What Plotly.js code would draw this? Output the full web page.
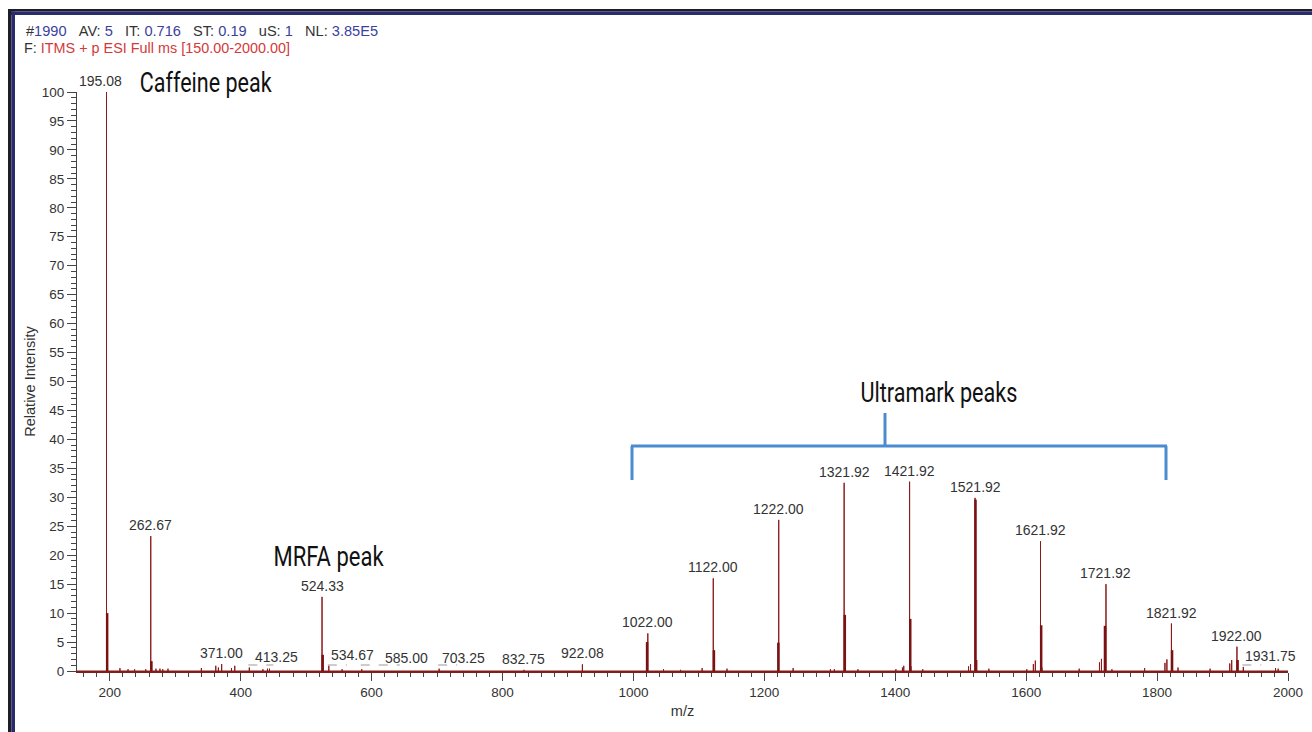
<!DOCTYPE html>
<html><head><meta charset="utf-8">
<script src="https://cdn.plot.ly/plotly-3.0.1.min.js"></script>
<style>html,body{margin:0;padding:0;background:#fff;}#chart{width:1312px;height:732px;}</style>
</head><body><div id="chart"></div>
<script>
// ---- labelled peaks ----
const peakMz = [195.08, 262.67, 371.00, 413.25, 524.33, 534.67, 585.00, 703.25, 832.75, 922.08,
  1022.00, 1122.00, 1222.00, 1321.92, 1421.92, 1521.92, 1621.92, 1721.92, 1821.92, 1922.00, 1931.75];
const peakIntensity = [100, 23.3, 1.2, 0.6, 12.8, 0.9, 0.3, 0.4, 0.2, 1.15,
  6.5, 16.0, 26.1, 32.5, 32.7, 29.9, 22.4, 15.0, 8.2, 4.2, 0.7];
const peakLabels = ["195.08", "262.67", "371.00", "413.25", "524.33", "534.67", "585.00", "703.25", "832.75", "922.08",
  "1022.00", "1122.00", "1222.00", "1321.92", "1421.92", "1521.92", "1621.92", "1721.92", "1821.92", "1922.00", "1931.75"];
// ---- isotope / shoulder sticks (drawn thicker) ----
const isoMz = [196.08, 263.67, 525.33, 1020.9, 1123.0, 1221.4, 1322.92, 1422.92, 1522.6, 1622.92, 1720.4, 1822.9, 1923.0];
const isoIntensity = [10.0, 1.7, 2.8, 5.0, 3.6, 4.9, 9.7, 9.0, 29.6, 7.9, 7.8, 3.6, 1.9];
// ---- small noise peaks ----
const noiseMz = [215.6, 228, 238, 255, 270.6, 276.7, 281, 289, 340, 362, 366, 386, 391, 434, 441, 444, 555,
  1046, 1072, 1105, 1143, 1244, 1301, 1307, 1323.9, 1343, 1401, 1411, 1413, 1423.9, 1442, 1512, 1515, 1524.5, 1543,
  1601, 1611, 1614, 1624, 1681, 1712, 1715, 1731, 1781, 1812, 1815, 1832, 1881, 1911, 1914, 1981, 1985];
const noiseIntensity = [0.5, 0.3, 0.3, 0.3, 0.4, 0.4, 0.3, 0.4, 0.5, 0.9, 0.6, 0.5, 0.9, 0.3, 0.4, 0.4, 0.3,
  0.3, 0.2, 0.5, 0.4, 0.5, 0.3, 0.3, 1.0, 0.3, 0.3, 0.6, 0.9, 0.8, 0.3, 0.8, 1.2, 1.9, 0.4,
  0.3, 1.2, 1.8, 0.6, 0.4, 1.5, 2.1, 0.3, 0.5, 1.4, 2.0, 0.6, 0.4, 1.3, 1.9, 0.5, 0.4];
const xRange = [150, 2000];
const yRange = [0, 100];

// ---- geometry helpers (pixel -> paper) ----
const W = 1312, H = 732, ML = 77, MR = 24, MT = 92, MB = 61;
const pw = W - ML - MR, ph = H - MT - MB;
const px = p => (p - ML) / pw;
const py = p => (H - MB - p) / ph;

// thin profile line with baseline
const thin = [];
peakMz.forEach((m, i) => thin.push([m, peakIntensity[i]]));
noiseMz.forEach((m, i) => thin.push([m, noiseIntensity[i]]));
thin.sort((a, b) => a[0] - b[0]);
const tx = [xRange[0]], ty = [0];
thin.forEach(([m, h]) => { tx.push(m, m, m); ty.push(0, h, 0); });
tx.push(xRange[1]); ty.push(0);

const ix = [], iy = [];
isoMz.forEach((m, i) => { ix.push(m, m, null); iy.push(0, isoIntensity[i], null); });

const traces = [
  {type: 'scatter', mode: 'lines', x: tx, y: ty, line: {color: '#8b1a1a', width: 1}, hoverinfo: 'x+y', showlegend: false},
  {type: 'scatter', mode: 'lines', x: ix, y: iy, line: {color: '#7a1212', width: 2.5}, hoverinfo: 'x+y', showlegend: false}
];

const labelFont = {family: 'Liberation Sans, Arial, sans-serif', size: 14, color: '#333'};
const xShift = {"195.08": -6, "413.25": 27, "534.67": 24, "585.00": 45, "703.25": 24, "1931.75": 27};
const leader = {"413.25": 24, "534.67": 18, "585.00": 38, "703.25": 18, "1931.75": 18};

const annotations = peakMz.map((m, i) => ({
  x: m, y: peakIntensity[i], xref: 'x', yref: 'y', text: peakLabels[i], showarrow: false,
  yanchor: 'bottom', xanchor: 'center', yshift: 1, xshift: xShift[peakLabels[i]] || 0, font: labelFont
}));

const bigFont = {family: 'Roboto, Liberation Sans, sans-serif', size: 27, color: '#111'};
annotations.push(
  {xref: 'paper', yref: 'paper', x: px(206), y: py(83), text: 'Caffeine peak', showarrow: false, xanchor: 'center', yanchor: 'middle', font: bigFont},
  {xref: 'paper', yref: 'paper', x: px(328), y: py(557), text: 'MRFA peak', showarrow: false, xanchor: 'center', yanchor: 'middle', font: bigFont},
  {xref: 'paper', yref: 'paper', x: px(939), y: py(393), text: 'Ultramark peaks', showarrow: false, xanchor: 'center', yanchor: 'middle', font: bigFont}
);
const hdr = {family: 'Liberation Sans, Arial, sans-serif', size: 14, color: '#333'};
const blue = s => '<span style="color:#3b3f9e">' + s + '</span>';
const sp = '&nbsp;&nbsp;&nbsp;';
annotations.push(
  {xref: 'paper', yref: 'paper', x: px(24), y: py(31), xanchor: 'left', yanchor: 'middle', showarrow: false, font: hdr, align: 'left',
   text: '#' + blue('1990') + sp + 'AV:&nbsp;' + blue('5') + sp + 'IT:&nbsp;' + blue('0.716') + sp + 'ST:&nbsp;' + blue('0.19') + sp + 'uS:&nbsp;' + blue('1') + sp + 'NL:&nbsp;' + blue('3.85E5')},
  {xref: 'paper', yref: 'paper', x: px(22), y: py(48), xanchor: 'left', yanchor: 'middle', showarrow: false, font: hdr, align: 'left',
   text: 'F:&nbsp;<span style="color:#d23a3a">ITMS + p ESI Full ms [150.00-2000.00]</span>'}
);
// target text widths (px) for fitting the reference's condensed lettering
const fitWidth = {"Caffeine peak": 132, "MRFA peak": 110, "Ultramark peaks": 157};
const fitPrefix = [["#1990", 352], ["F:", 266]];

const shapes = [];
Object.keys(leader).forEach(lbl => {
  const i = peakLabels.indexOf(lbl);
  shapes.push({type: 'line', xref: 'x', yref: 'y', xsizemode: 'pixel', xanchor: peakMz[i], x0: -1, x1: leader[lbl],
    ysizemode: 'pixel', yanchor: 0, y0: 6, y1: 6, line: {color: '#999', width: 1, dash: 'dash'}});
});
// Ultramark bracket
const bc = '#4a8ccf';
shapes.push(
  {type: 'line', xref: 'paper', yref: 'paper', x0: px(631), x1: px(1167), y0: py(446), y1: py(446), line: {color: bc, width: 3}},
  {type: 'line', xref: 'paper', yref: 'paper', x0: px(632), x1: px(632), y0: py(446), y1: py(480), line: {color: bc, width: 3}},
  {type: 'line', xref: 'paper', yref: 'paper', x0: px(1166), x1: px(1166), y0: py(446), y1: py(480), line: {color: bc, width: 3}},
  {type: 'line', xref: 'paper', yref: 'paper', x0: px(885), x1: px(885), y0: py(413), y1: py(446), line: {color: bc, width: 3}}
);
// window frame (top and left)
shapes.push(
  {type: 'rect', xref: 'paper', yref: 'paper', x0: px(8), x1: px(1330), y0: py(9), y1: py(11.5), fillcolor: '#1e1e28', line: {width: 0}},
  {type: 'rect', xref: 'paper', yref: 'paper', x0: px(8), x1: px(1330), y0: py(11.5), y1: py(15), fillcolor: '#2a2b6e', line: {width: 0}},
  {type: 'rect', xref: 'paper', yref: 'paper', x0: px(8), x1: px(11.5), y0: py(9), y1: py(760), fillcolor: '#1e1e28', line: {width: 0}},
  {type: 'rect', xref: 'paper', yref: 'paper', x0: px(11.5), x1: px(15), y0: py(11.5), y1: py(760), fillcolor: '#2a2b6e', line: {width: 0}}
);

const tickFont = {family: 'Liberation Sans, Arial, sans-serif', size: 13.5, color: '#333'};
const titleFont = {family: 'Liberation Sans, Arial, sans-serif', size: 14.5, color: '#333'};
const layout = {
  width: W, height: H, margin: {l: ML, r: MR, t: MT, b: MB, pad: 0},
  paper_bgcolor: '#fff', plot_bgcolor: '#fff', showlegend: false,
  xaxis: {range: xRange, tickmode: 'linear', tick0: 0, dtick: 200, ticks: 'outside', ticklen: 8, tickcolor: '#444', tickwidth: 1,
    minor: {tickmode: 'linear', tick0: 0, dtick: 20, ticks: 'outside', ticklen: 4, tickcolor: '#444', showgrid: false},
    showgrid: false, zeroline: false, showline: true, linecolor: '#7f1d1d', linewidth: 2, tickfont: tickFont,
    title: {text: 'm/z', font: titleFont, standoff: 7}},
  yaxis: {range: yRange, tickmode: 'linear', tick0: 0, dtick: 5, ticks: 'outside', ticklen: 9, tickcolor: '#444', tickwidth: 1,
    minor: {tickmode: 'linear', tick0: 0, dtick: 1, ticks: 'outside', ticklen: 5, tickcolor: '#444', showgrid: false},
    showgrid: false, zeroline: false, showline: true, linecolor: '#444', linewidth: 1, tickfont: tickFont,
    title: {text: 'Relative Intensity', font: titleFont, standoff: 2}},
  annotations: annotations, shapes: shapes
};
Plotly.newPlot('chart', traces, layout, {displayModeBar: false, staticPlot: true}).then(gd => {
  gd.querySelectorAll('text.annotation-text').forEach(t => {
    const s = t.textContent;
    let w = fitWidth[s];
    fitPrefix.forEach(([p, v]) => { if (s.startsWith(p)) w = v; });
    if (w) { t.setAttribute('textLength', w); t.setAttribute('lengthAdjust', 'spacingAndGlyphs'); }
  });
});
</script></body></html>
